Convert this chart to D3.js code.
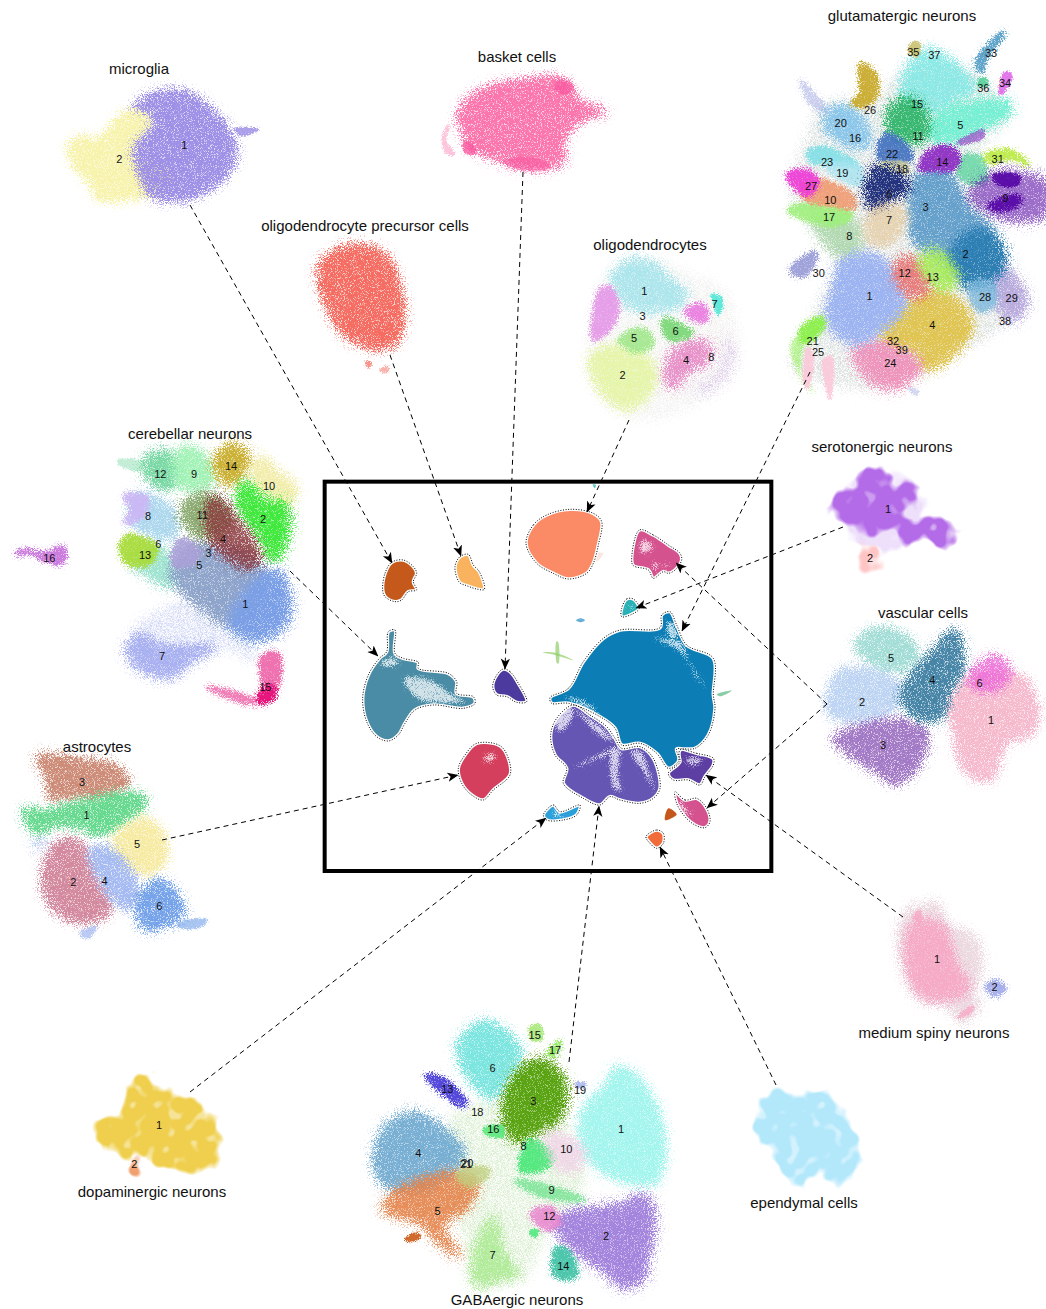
<!DOCTYPE html>
<html><head><meta charset="utf-8">
<script src="https://cdn.jsdelivr.net/npm/d3@7"></script>
<style>html,body{margin:0;padding:0;background:#fff}svg{display:block}
text{font-family:"Liberation Sans",Arial,sans-serif;fill:#111}</style></head><body>
<svg id="c" width="1046" height="1309"></svg>
<script>
// ---------- cell-type titles ----------
const titles = [["microglia",139,68],["basket cells",517,56],["oligodendrocyte precursor cells",365,225],["oligodendrocytes",650,244],
["glutamatergic neurons",902,15],["cerebellar neurons",190,433],["serotonergic neurons",882,446],["vascular cells",923,612],
["astrocytes",97,746],["medium spiny neurons",934,1032],["dopaminergic neurons",152,1191],["ependymal cells",804,1202],["GABAergic neurons",517,1299]];

// ---------- arrows between the atlas and the panels ----------
const arrows = [[190,205,392,563],[390,355,461,556],[523,172,505,669],[629,420,587,512],[810,372,682,631],[843,527,636,608],
[827,704,676,563],[827,704,707,808],[290,571,378,656],[162,840,458,775],[903,917,706,775],[776,1085,660,847],[569,1062,599,806],[190,1092,546,818]];

// ---------- central atlas, embedding read in a 1380x1200 frame ----------
const atlasFrame = [320,475,460,400];
const atlasColors = ["#c4591b","#f9b35f","#fb8a66","#d4528e","#2ab1b7","#4a8ca6","#4c3a9e","#0d7eb5","#6656b4","#5d3fa3","#d4528e","#d33f5c","#2a9fd9","#f26b3a"];
const atlasOutlines = [
[188,345,195,295,215,262,250,255,280,275,290,295,280,320,290,345,265,350,245,375,225,380,195,365],
[405,275,420,245,445,238,460,270,478,290,493,343,470,342,440,332,418,322],
[618,205,640,150,680,120,750,103,820,115,845,140,835,210,820,265,800,295,745,312,700,295,650,265],
[958,165,1000,180,1045,210,1080,235,1085,255,1065,285,1045,295,1030,290,1000,310,985,285,940,272,935,255],
[905,400,920,372,940,372,958,400,935,418,905,425],
[205,470,225,465,225,535,250,550,295,562,295,580,385,595,410,620,410,655,460,665,465,685,430,700,340,690,285,705,255,745,235,780,205,798,170,785,140,740,128,670,145,600,178,550,200,530],
[550,582,570,590,595,625,620,680,590,682,560,665,530,660,518,635,530,600],
[690,668,745,640,790,560,850,490,900,465,1020,458,1025,420,1050,410,1070,450,1100,510,1180,550,1180,660,1185,700,1165,780,1125,820,1080,825,1075,860,1045,880,1010,835,960,805,905,810,885,760,840,725,745,685,695,685],
[760,690,810,720,860,755,885,790,905,820,960,815,1000,850,1020,940,1000,970,960,985,900,975,870,965,840,990,790,970,730,925,740,880,705,840,692,780,710,730],
[1070,822,1130,835,1180,850,1180,870,1155,905,1140,930,1105,915,1060,915,1045,895,1080,860],
[1065,950,1095,975,1130,970,1160,1000,1170,1040,1155,1058,1125,1050,1095,1025,1070,985],
[415,880,435,840,470,805,540,812,565,850,570,900,520,945,490,975,455,960,425,925],
[670,1020,700,990,720,1010,780,990,770,1020,730,1035,680,1035],
[978,1085,1010,1065,1030,1075,1030,1105,1010,1120,990,1105]];
const atlasStreaks = [
[250,610,320,610,400,660,440,680,390,685,290,670],[180,560,230,548,235,570,185,572],
[730,668,790,675,840,715,790,695],[1000,490,1040,490,1085,500,1110,560,1160,640,1130,610,1080,530],[1040,440,1060,440,1075,490,1050,490],
[1010,850,1050,890,1030,875],
[755,880,830,840,885,815,880,830,790,870],[875,820,900,815,895,900,905,950,880,940],[930,830,960,825,985,880,1005,950,970,890],
[700,700,760,700,740,760,715,770],[760,700,850,760,885,800,850,790],
[965,195,1000,210,985,235,960,230],[490,845,525,835,520,860,495,860],[1000,262,1015,262,1008,295],[1035,262,1045,262,1040,290],
[1095,850,1150,850,1130,870,1100,865],[1070,960,1090,990,1120,1020,1085,1010],[705,1005,730,1022,700,1025],[920,395,945,395,925,405]];
const atlasLooseColors = ["#c4591b","#2a8fc4","#8fcf6a","#8fcf6a","#58b880","#2ab1b7","#f2a090","#f2a090"];
const atlasLoose = [
[1035,1035,1045,1000,1070,1018,1050,1032],[768,436,782,430,795,436,782,442],
[668,532,710,534,760,556,712,542],[709,500,714,500,716,565,711,565],[1190,658,1235,647,1200,664],[818,28,828,30,824,40],
[825,235,850,235,830,260],[1100,1030,1130,1040,1100,1040]];

// ---------- microglia, frame 630x465 ----------
const micFrame=[55,60,210,155];
const micColors=[,"#9d90e6","#f7f3a8"];
const micLabels=[[1,388,255],[2,193,297]];
const micRegions=[
[2,.95,[40,265,70,230,130,240,200,165,250,150,300,185,260,230,240,300,340,320,320,385,190,420,125,415,115,380,55,315]],
[1,1,[235,140,320,95,410,105,485,165,540,250,530,325,465,385,400,415,295,410,255,340,240,260,290,215,300,175,260,145]],
[1,.85,[540,207,610,208,560,225]]];

// ---------- basket cells + OPC ----------
const topFrame=[300,45,320,335];
const topColors=["#fb6fa8","#f5665a","#f9559e"];
const topRegions=[
[0,.95,[475,215,525,145,650,110,780,100,815,130,835,170,915,200,845,225,785,290,795,345,720,370,640,360,550,325,505,305,495,270]],
[2,.8,[490,295,515,295,525,325,495,320]],[2,.7,[780,105,820,125,800,145,765,130]],[2,.6,[610,350,700,340,750,365,670,375]],
[0,.4,[428,280,445,240,448,243,435,285,465,328,440,325]],
[1,.95,[55,680,85,630,180,600,260,635,305,760,310,830,280,900,230,910,140,875,85,790]],
[1,.7,[198,950,212,952,210,965,200,963]],[1,.5,[238,975,266,965,258,982]]];

// ---------- oligodendrocytes ----------
const oliFrame=[575,235,175,200];
const oliColors=[,"#a9e5ec","#e5f5a8",,"#e88ec8","#a5e88f","#7cd878","#5ae8d8","#d9c2e8","#e59be8","#ea7fe0","#f0f0ee"];
const oliLabels=[[1,208,168],[7,419,207],[3,203,243],[6,302,288],[5,177,309],[8,409,367],[4,333,375],[2,143,420]];
const oliRegions=[
[11,.5,[30,340,100,110,190,60,330,100,460,170,490,340,420,470,250,560,100,520]],
[8,.5,[450,290,490,350,470,420,380,490,345,470,430,400,440,340]],
[1,.95,[110,130,170,75,230,85,300,150,335,180,300,215,240,225,180,220,130,180]],
[9,.95,[50,300,78,160,110,160,130,225,100,290,55,315]],
[10,.95,[330,230,380,205,400,250,370,260]],
[4,.95,[278,380,310,340,390,320,410,350,380,390,330,410,310,450,285,455,272,430]],
[2,.98,[45,375,100,335,220,370,240,430,200,500,160,520,90,480]],
[5,.95,[130,315,190,280,230,300,230,335,180,350,150,335]],
[6,.95,[265,250,300,260,355,295,300,315,275,310]],
[7,.95,[408,178,435,185,442,215,430,240,415,200]]];

// ---------- glutamatergic neurons ----------
const gluFrame=[780,0,266,410];
const gluColors=[,"#9db4f2","#2d7fb3","#5f9dcb","#e0c34a","#70f0d2","#24337e","#e6cfa9","#a9d6a8","#5b0fa8","#f09a70","#2fb56a","#e87878","#a8ec5a","#8f2fc4","#7ce8e4","#86c5ea","#9df07a","#cfcf9a","#a8e4f0","#b7bde8","#8bf04a","#4070c0","#80dfe6","#f08cb8","#fcc6d8","#c9ab2f","#ee3fd6","#7ab7dc","#a590d8","#9b9fd8","#b9ea3f","#e2dfa8","#4f9bc4","#e070e8","#c9c270","#55d09a","#d5dcd8","#6dd8a8"];
const gluLabels=[[35,400,155],[37,463,165],[33,633,160],[34,675,250],[36,610,265],[26,270,330],[15,411,312],[20,182,370],[5,541,376],[16,225,415],[11,414,408],[22,336,462],[18,366,508],[14,487,487],[31,653,478],[23,141,487],[19,187,519],[27,93,558],[10,151,601],[6,329,582],[9,676,594],[3,437,620],[17,147,651],[7,327,660],[8,208,708],[2,557,762],[30,116,820],[12,374,820],[13,458,831],[1,269,888],[28,615,892],[29,695,894],[38,675,963],[4,457,976],[21,98,1024],[32,339,1024],[39,365,1050],[25,114,1056],[24,331,1090]];
const gluRegions=[
[37,.5,[60,450,130,300,260,300,380,200,560,200,690,330,600,470,640,700,740,900,650,1000,500,1080,340,1165,150,1160,30,1100,90,950,160,780,60,640,20,560]],
[15,.85,[370,300,375,220,440,150,500,175,560,230,590,265,520,300,470,340,430,330]],
[5,.95,[440,400,470,350,560,310,690,310,690,340,620,380,540,420,480,430]],
[20,.7,[60,240,100,280,135,320,150,340,100,320,75,280]],
[16,.95,[130,370,150,330,210,320,270,410,260,440,190,430]],
[26,.95,[215,310,240,280,240,190,285,220,290,290,250,320]],
[11,.95,[320,360,340,310,400,300,435,340,440,410,390,430,330,400]],
[22,.9,[295,440,320,400,390,450,395,480,300,480]],
[18,.8,[300,490,380,490,385,520,300,510]],
[23,.9,[80,460,130,440,240,500,200,500,140,490,100,490]],
[19,.8,[130,490,240,500,240,555,170,530]],
[8,.85,[100,660,180,650,240,690,220,770,170,760]],
[17,.9,[20,630,80,610,220,640,190,670,110,670]],
[10,.9,[60,570,120,540,220,590,225,625,150,615,80,600]],
[27,.95,[20,525,80,510,115,545,80,590,50,570]],
[3,.95,[390,590,420,520,500,510,560,620,640,700,600,760,510,800,470,770,400,720]],
[38,.9,[540,470,600,470,620,540,570,550,530,510]],
[6,1,[262,540,290,500,370,530,390,560,330,600,280,630,260,600]],
[7,.85,[255,680,280,630,360,620,375,650,340,720,280,740]],
[14,.95,[420,490,450,450,510,440,540,470,520,510,470,510,420,510]],
[14,.6,[530,430,610,390,610,410,550,432]],
[31,.9,[610,470,690,450,750,500,690,475,630,490]],
[9,.6,[570,590,640,520,720,520,798,550,798,640,720,660,640,640]],
[9,1,[640,525,720,530,710,555,650,550]],[9,1,[620,620,710,585,725,600,680,632]],
[29,.7,[640,790,700,830,740,900,720,950,680,960,650,890]],
[2,1,[500,800,530,730,600,690,665,740,670,800,620,850,560,860]],
[28,.8,[570,850,640,850,640,920,590,930]],
[4,.95,[300,1010,380,920,440,870,530,900,575,980,520,1060,430,1110,420,1060,360,1040]],
[24,.9,[220,1050,300,1030,420,1090,420,1110,340,1165,270,1140]],
[1,1,[140,950,165,850,180,790,260,760,330,800,360,860,375,910,340,960,290,1000,220,1030,160,990]],
[12,.95,[345,800,390,770,450,850,420,890,370,870]],
[13,.95,[420,780,460,750,530,830,500,870,450,840]],
[21,.95,[60,990,130,950,130,985,70,1030]],
[21,.55,[35,1040,70,1000,60,1110,100,1180,55,1110]],
[25,.85,[70,1130,85,1040,100,1080,80,1170]],[25,.85,[130,1080,155,1070,150,1200]],
[30,.95,[30,815,100,755,110,770,70,830]],
[33,.9,[585,195,670,95,675,100,615,180,610,220]],
[34,.95,[660,285,675,215,695,225,680,265]],[35,.9,[385,150,400,125,420,130,410,170]],[36,.9,[595,240,615,235,625,255,600,260]],
[20,.6,[385,1165,415,1175,410,1185]]];

// ---------- cerebellar neurons ----------
const cerFrame=[0,430,300,290];
const cerColors=[,"#7b9fe6","#3ee83a","#8aa0c8","#8c3a3f","#a9a0d8","#8fe0c8","#a3abf0","#a6d4ec","#9ff2b4","#f2edA8","#87a86c","#6cd49c","#a8dc3c","#c9ad2c","#e6167c","#c266d8","#ccb5f5","#cfd6f6"];
const cerLabels=[[12,481,132],[9,582,132],[14,693,108],[10,807,168],[2,789,268],[11,607,256],[8,444,258],[4,669,326],[6,475,342],[3,626,368],[13,435,376],[5,598,405],[16,148,384],[1,736,522],[7,486,678],[15,796,772]];
const cerRegions=[
[18,.5,[400,600,560,510,700,620,780,660,760,700,650,650,520,740,420,720]],
[12,.9,[430,100,470,65,520,80,530,150,500,180,450,150]],[12,.4,[355,90,430,100,420,120,360,105]],
[9,.95,[530,70,585,55,640,130,630,170,540,170]],
[14,.95,[645,90,690,45,745,75,730,130,690,165,650,130]],
[10,.95,[755,110,790,85,830,130,880,160,875,220,800,200,765,160]],
[2,.98,[715,180,735,155,800,220,850,215,865,250,850,350,820,400,780,320,720,240]],
[8,.9,[400,200,440,195,525,250,525,320,470,320,400,280]],
[17,.9,[370,195,440,200,430,260,370,280,395,240]],
[6,.85,[400,400,470,350,510,380,520,470,450,440]],
[13,.95,[360,340,390,315,470,350,450,400,380,400]],
[3,.95,[515,430,600,340,780,400,790,470,700,590,600,530]],
[5,.9,[515,370,545,325,600,360,580,400,525,410]],
[11,.95,[545,240,590,195,650,205,690,270,660,310,590,320]],
[4,.85,[640,200,700,260,780,390,740,410,640,340,620,270]],
[1,1,[690,590,750,470,830,420,870,520,850,590,770,630]],
[7,.9,[380,670,420,610,480,650,650,650,560,700,520,740,430,720]],
[15,.6,[785,680,835,670,830,770,795,770]],[15,1,[770,815,795,770,825,770,825,800,785,822]],[15,.55,[620,770,770,812,770,822,650,790]],
[16,.85,[45,368,80,358,130,370,190,350,190,400,140,395,90,370,50,375]]];

// ---------- serotonergic + vascular ----------
const rightFrame=[815,440,231,350];
const rightColors=[,"#f6b3c8","#b8d0f2","#9a6cc0","#3e7fa3","#9fdcd4","#ee6fd8"];
const rightLabels=[[5,228,654],[4,352,720],[6,494,729],[2,141,786],[1,528,841],[3,204,915]];
const rightRegions=[
[5,.95,[120,620,180,565,260,580,310,640,290,680,210,690,160,660]],
[2,.9,[35,790,80,690,240,720,255,780,180,840,50,830]],
[3,.9,[55,900,130,860,260,840,330,870,320,960,240,1030,180,990,130,960]],
[1,.9,[400,800,450,720,620,710,665,800,650,880,570,910,530,1015,470,1010,430,950,420,880]],
[6,.9,[485,680,540,650,580,680,570,730,500,750,460,720]],
[4,.95,[255,770,285,710,350,640,420,570,440,690,400,760,380,830,320,840,270,800]]];
const seroColors=["#b36be8","#ffc5c5","#e7d2fa"];
const seroLabels=[[1,219,208],[2,165,353]];
const seroRegions=[
[2,.7,[115,120,300,130,320,230,260,320,190,330,120,300]],
[0,1,[50,185,80,150,125,150,130,100,165,85,225,100,240,140,290,125,315,155,290,190,265,210,260,240,340,235,390,235,420,290,410,325,380,320,320,290,270,320,250,290,225,255,180,285,120,265,80,245]],
[1,1,[135,335,165,315,195,345,190,385,150,395,135,370]]];

// ---------- astrocytes ----------
const astFrame=[0,740,215,210];
const astColors=[,"#5fd88a","#cf7d94","#c8806a","#9db4f0","#f7ea9f","#6f9fe8"];
const astLabels=[[3,246,126],[1,260,226],[5,411,312],[2,220,426],[4,314,424],[6,478,498]];
const astRegions=[
[3,.9,[110,50,250,60,350,80,385,130,310,165,200,170,155,180,140,110]],
[4,.5,[90,290,150,290,130,340,105,335]],
[1,.95,[70,205,130,215,200,195,300,170,390,160,440,180,370,250,300,285,250,265,170,255,110,280,85,255]],
[2,.9,[130,440,160,320,230,300,290,420,330,510,270,545,180,525]],
[5,.95,[340,300,430,235,480,270,500,340,460,400,400,390,350,340]],
[4,.9,[270,330,320,320,410,430,400,500,350,490]],
[6,.95,[410,490,470,420,520,450,550,520,490,560,430,565]],
[6,.6,[530,550,620,540,600,560,540,562]],[4,.7,[240,580,290,560,260,595]]];

// ---------- medium spiny + ependymal ----------
const msnFrame=[740,890,280,300];
const msnColors=[,"#f7a8c5","#a8b0ec","#b3e8fb","#ecd9e0"];
const msnLabels=[[1,591,207],[2,764,291]];
const msnRegions=[
[4,.95,[480,120,520,50,545,70,580,35,610,80,610,120,680,125,720,190,715,260,690,300,715,350,665,395,630,345,540,320,500,240]],
[1,.95,[500,220,520,100,600,100,650,230,690,295,610,330,540,310]],
[1,.8,[520,80,540,60,540,100]],[1,.8,[650,385,700,345,690,370]],
[2,1,[740,285,770,270,795,295,770,318,745,305]]];
const epeRegions=[[3,1,[40,710,105,590,135,610,240,610,310,660,355,770,345,850,300,880,230,850,170,890,100,790]]];

// ---------- dopaminergic ----------
const dopFrame=[70,1060,170,145];
const dopColors=["#efcf4d","#f0a070"];
const dopLabels=[[1,267,195],[2,193,312]];
const dopRegions=[
[0,1,[75,240,80,180,130,170,170,130,185,70,230,35,250,80,310,95,390,130,450,240,420,320,320,330,240,310,200,280,150,295,130,260]],
[1,1,[180,310,195,295,208,320,195,350,182,335]]];

// ---------- GABAergic ----------
const gabFrame=[370,1010,300,299];
const gabColors=[,"#9af5ec","#a07fdc","#5aa312","#6ba7cf","#e5834a","#6fe3dc","#a9ea8f","#4fe87c","#80e59a","#f2cfe8",,"#e98ad0","#4a3fd8","#45c4a8","#a9e87a","#5be87c","#8fe85a","#ef9ab0","#8f9fe8","#c0d080","#d5ecca","#d06a2e"];
const gabLabels=[[15,494,75],[17,555,120],[6,368,175],[13,232,237],[19,630,240],[3,490,272],[18,322,306],[16,370,358],[1,753,358],[8,461,408],[10,589,418],[4,145,430],[20,292,458],[21,288,462],[9,545,540],[5,203,604],[12,538,618],[2,708,678],[7,368,735],[14,580,768]];
const gabRegions=[
[21,.5,[250,300,550,300,650,520,550,650,460,810,320,830,280,700,230,500]],
[1,.9,[640,300,710,230,740,170,800,205,860,300,880,450,850,520,760,510,650,440]],
[2,.95,[550,640,620,600,740,590,830,560,850,650,830,750,820,810,760,830,700,780,600,710]],
[4,.9,[15,435,50,350,130,310,210,350,280,430,250,480,150,540,40,520]],
[5,.9,[40,600,80,545,250,490,320,510,280,600,210,640,270,740,200,690,160,640,100,620]],
[22,1,[105,690,135,670,150,680,125,695]],
[6,.9,[265,110,345,35,450,125,420,200,370,260,320,230]],
[3,1,[400,310,440,190,510,150,580,210,570,320,510,360,430,390]],
[7,.85,[310,750,370,620,400,740,450,800,390,800,320,830]],
[8,.95,[450,480,480,390,550,440,520,480]],
[9,.9,[430,510,540,530,650,570,520,560]],
[10,.75,[530,370,640,420,620,480,560,470]],
[12,.9,[480,610,540,590,570,640,530,660]],
[13,.95,[165,195,210,200,290,280,280,290]],
[14,.95,[550,790,560,710,600,730,620,800,570,805]],
[15,.9,[480,50,510,45,515,90,485,90]],
[16,.9,[340,355,400,350,400,380,350,375]],
[17,.9,[530,130,575,92,550,140]],
[19,.7,[615,220,650,220,630,235]],
[20,.8,[260,490,340,470,360,490,290,530]],
[8,.9,[482,660,505,660,500,678,484,676]]];

const panels=[
{f:micFrame,colors:micColors,regions:micRegions,labels:micLabels,mode:"s"},
{f:topFrame,colors:topColors,regions:topRegions,labels:[],mode:"s"},
{f:oliFrame,colors:oliColors,regions:oliRegions,labels:oliLabels,mode:"d"},
{f:gluFrame,colors:gluColors,regions:gluRegions,labels:gluLabels,mode:"d"},
{f:cerFrame,colors:cerColors,regions:cerRegions,labels:cerLabels,mode:"d"},
{f:rightFrame,colors:rightColors,regions:rightRegions,labels:rightLabels,mode:"s"},
{f:rightFrame,colors:seroColors,regions:seroRegions,labels:seroLabels,mode:"l"},
{f:astFrame,colors:astColors,regions:astRegions,labels:astLabels,mode:"s"},
{f:msnFrame,colors:msnColors,regions:msnRegions,labels:msnLabels,mode:"d"},
{f:msnFrame,colors:msnColors,regions:epeRegions,labels:[],mode:"l"},
{f:dopFrame,colors:dopColors,regions:dopRegions,labels:dopLabels,mode:"l"},
{f:gabFrame,colors:gabColors,regions:gabRegions,labels:gabLabels,mode:"d"}];

const svg=d3.select("#c"), defs=svg.append("defs");
function pairs(a){const r=[];for(let i=0;i<a.length;i+=2)r.push([a[i],a[i+1]]);return r;}
function scales(f,k=3){return {x:d3.scaleLinear().domain([0,f[2]*k]).range([f[0],f[0]+f[2]]),y:d3.scaleLinear().domain([0,f[3]*k]).range([f[1],f[1]+f[3]])};}
function pathOf(s,pts){return d3.line().x(d=>s.x(d[0])).y(d=>s.y(d[1])).curve(d3.curveCatmullRomClosed.alpha(.5))(pairs(pts));}

// stippled look of the scatter: an SVG filter turning a soft edge into grain
function grain(id,std,seed,k2,slope,base,oct=2,post=0){
  const fl=defs.append("filter").attr("id",id).attr("x","-80%").attr("y","-80%").attr("width","260%").attr("height","260%").attr("color-interpolation-filters","sRGB");
  fl.append("feGaussianBlur").attr("in","SourceGraphic").attr("stdDeviation",std).attr("result","b");
  fl.append("feComponentTransfer").attr("in","b").attr("result","solid").append("feFuncA").attr("type","linear").attr("slope",60);
  fl.append("feColorMatrix").attr("in","b").attr("values","0 0 0 0 0 0 0 0 0 0 0 0 0 0 0 0 0 0 1 0").attr("result","ba");
  fl.append("feTurbulence").attr("type","fractalNoise").attr("baseFrequency",base).attr("numOctaves",oct).attr("seed",seed).attr("result","t");
  fl.append("feColorMatrix").attr("in","t").attr("values","0 0 0 0 0 0 0 0 0 0 0 0 0 0 0 2.6 0 0 0 -.8").attr("result","na");
  fl.append("feComposite").attr("in","ba").attr("in2","na").attr("operator","arithmetic").attr("k1",0).attr("k2",k2).attr("k3",1).attr("k4",-1).attr("result","m0");
  fl.append("feComponentTransfer").attr("in","m0").attr("result","m").append("feFuncA").attr("type","linear").attr("slope",slope).attr("intercept",0);
  fl.append("feComposite").attr("in","solid").attr("in2","m").attr("operator","in").attr("result","o");
  if(post) fl.append("feGaussianBlur").attr("in","o").attr("stdDeviation",post);
}
[0,1,2].forEach(i=>{
  grain("d"+i,7,i*7+2,1.32,1.6,1.3);       // dense, large clusters
  grain("s"+i,6,i*7+3,1.2,1.8,1.3);        // sparse clusters
  grain("l"+i,3.2,i*5+4,1.45,1.3,.09,1,.7);// few large cells: lumpy
  grain("m"+i,3.4,i*3+8,1.45,1.7,1.3);     // small clusters
  grain("t"+i,1.8,i*3+5,1.5,1.8,1.3);      // thin shapes
  grain("h"+i,7,i*3+6,.95,1.1,1.4);        // low-density haze
});
defs.append("filter").attr("id","atlasSoft").attr("x","-30%").attr("y","-30%").attr("width","160%").attr("height","160%").append("feGaussianBlur").attr("stdDeviation",.7);
grain("st",2.6,9,1.3,1.5,1.1,2,.4);
const mk=defs.append("marker").attr("id","arr").attr("viewBox","0 0 10 10").attr("refX",9.5).attr("refY",5).attr("markerWidth",11).attr("markerHeight",11).attr("markerUnits","userSpaceOnUse").attr("orient","auto");
mk.append("path").attr("d","M0,0.8L10,5L0,9.2L2.6,5Z").attr("fill","#000");

// panels
const strokeFor={d:9,s:8,l:2,m:4,t:2,h:4};
panels.forEach(p=>{
  const s=scales(p.f), g=svg.append("g");
  p.regions.forEach((r,i)=>{
    const P=pairs(r[2]), w=(d3.max(P,d=>d[0])-d3.min(P,d=>d[0]))/3, h=(d3.max(P,d=>d[1])-d3.min(P,d=>d[1]))/3, sz=Math.min(w,h);
    let m=p.mode;
    if(m!="l"){ if(sz<15) m="t"; else if(r[1]<=.5) m="h"; else if(sz<32) m="m"; }
    g.append("path").attr("d",pathOf(s,r[2])).attr("fill",p.colors[r[0]]).attr("stroke",p.colors[r[0]]).attr("stroke-width",strokeFor[m]).attr("stroke-linejoin","round")
     .attr("opacity",m=="h"?.9:r[1]).attr("filter",`url(#${m}${i%3})`);
  });
});

// atlas
const A=scales(atlasFrame), at=svg.append("g");
atlasLoose.forEach((o,i)=>at.append("path").attr("d",pathOf(A,o)).attr("fill",atlasLooseColors[i]).attr("opacity",i<1?1:i<6?.7:.25).attr("filter","url(#atlasSoft)"));
atlasOutlines.forEach((o,i)=>at.append("path").attr("d",pathOf(A,o)).attr("fill",atlasColors[i]));
atlasStreaks.forEach(o=>at.append("path").attr("d",pathOf(A,o)).attr("fill","#fff").attr("opacity",.75).attr("filter","url(#st)"));
atlasOutlines.forEach(o=>at.append("path").attr("d",pathOf(A,o)).attr("fill","none").attr("stroke","#fff").attr("stroke-width",3.5));
atlasOutlines.forEach(o=>at.append("path").attr("d",pathOf(A,o)).attr("fill","none").attr("stroke","#000").attr("stroke-width",1).attr("stroke-dasharray","1 1.6"));
svg.append("rect").attr("x",A.x(14)).attr("y",A.y(20)).attr("width",A.x(1354)-A.x(14)).attr("height",A.y(1188)-A.y(20)).attr("fill","none").attr("stroke","#000").attr("stroke-width",4);

// arrows
svg.append("g").selectAll("line").data(arrows).join("line")
 .attr("x1",d=>d[0]).attr("y1",d=>d[1]).attr("x2",d=>d[2]).attr("y2",d=>d[3])
 .attr("stroke","#000").attr("stroke-width",1).attr("stroke-dasharray","5 4").attr("marker-end","url(#arr)");

// numbers and titles
panels.forEach(p=>{const s=scales(p.f);
  svg.append("g").selectAll("text").data(p.labels).join("text").text(d=>d[0])
   .attr("x",d=>s.x(d[1])).attr("y",d=>s.y(d[2])).attr("text-anchor","middle").attr("dominant-baseline","central").attr("font-size",11);
});
svg.append("g").selectAll("text").data(titles).join("text").text(d=>d[0])
 .attr("x",d=>d[1]).attr("y",d=>d[2]).attr("text-anchor","middle").attr("dominant-baseline","central").attr("font-size",15);
</script></body></html>
